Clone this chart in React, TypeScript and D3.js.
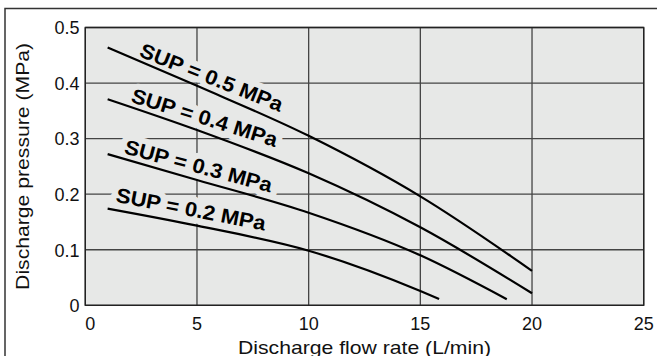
import React from "react";
import * as d3 from "d3";

const xTicks = [0, 5, 10, 15, 20, 25];
const yTicks = [0, 0.1, 0.2, 0.3, 0.4, 0.5];
const yTickLabels = ["0", "0.1", "0.2", "0.3", "0.4", "0.5"];

const sup05: [number, number][] = [[1, 0.464], [5, 0.395], [10, 0.305], [15, 0.196], [20, 0.062]];
const sup04: [number, number][] = [[1, 0.371], [5, 0.3155], [10, 0.2376], [15, 0.1404], [20, 0.0216]];
const sup03: [number, number][] = [[1, 0.272], [5, 0.2255], [10, 0.1667], [15, 0.09], [18.87, 0.011]];
const sup02: [number, number][] = [[1, 0.174], [5, 0.1433], [10, 0.0983], [15, 0.0257], [15.84, 0.0113]];
const series = [sup05, sup04, sup03, sup02];

const labelTexts = ["SUP = 0.5 MPa", "SUP = 0.4 MPa", "SUP = 0.3 MPa", "SUP = 0.2 MPa"];
// label anchors in data units (x, y) and rotation in degrees
const labelAnchors: [number, number, number][] = [
  [2.37, 0.4487, 21.6],
  [2.0, 0.3665, 17.4],
  [1.7, 0.2736, 14.9],
  [1.33, 0.1865, 11],
];

const xTitle = "Discharge flow rate (L/min)";
const yTitle = "Discharge pressure (MPa)";

const W = 657;
const H = 356;
const left = 85.3, right = 643.7, top = 27.5, bottom = 305.3;
const BG = "#e7e8e7";
const FONT = "'Liberation Sans', Arial, Helvetica, sans-serif";

export default function App() {
  const x = d3.scaleLinear().domain([0, 25]).range([left, right]);
  const y = d3.scaleLinear().domain([0, 0.5]).range([bottom, top]);
  const line = d3
    .line<[number, number]>()
    .x((d) => x(d[0]))
    .y((d) => y(d[1]))
    .curve(d3.curveMonotoneX);

  return (
    <svg
      width={W}
      height={H}
      style={{ position: "fixed", left: 0, top: 0, background: "#fff" }}
      fontFamily={FONT}
    >
      <rect x={0} y={0} width={W} height={H} fill="#fff" />
      {/* outer frame */}
      <rect x={5} y={8.5} width={800} height={500} fill="none" stroke="#333" strokeWidth={1.5} />
      {/* plot background */}
      <rect x={left} y={top} width={right - left} height={bottom - top} fill={BG} />
      {/* grid */}
      {xTicks.map((t) => (
        <line key={"gx" + t} x1={x(t)} x2={x(t)} y1={top} y2={bottom} stroke="#444" strokeWidth={1.3} />
      ))}
      {yTicks.map((t) => (
        <line key={"gy" + t} x1={left} x2={right} y1={y(t)} y2={y(t)} stroke="#444" strokeWidth={1.3} />
      ))}
      <rect x={left} y={top} width={right - left} height={bottom - top} fill="none" stroke="#222" strokeWidth={1.4} />
      {/* label halos */}
      {labelTexts.map((t, i) => {
        const [lx, ly, a] = labelAnchors[i];
        return (
          <text
            key={"h" + i}
            transform={`translate(${x(lx)},${y(ly)}) rotate(${a})`}
            fontSize={20.5}
            fontWeight="bold"
            textLength={152}
            lengthAdjust="spacingAndGlyphs"
            fill={BG}
            stroke={BG}
            strokeWidth={12}
            strokeLinejoin="round"
          >
            {t}
          </text>
        );
      })}
      {/* curves */}
      {series.map((s, i) => (
        <path key={"c" + i} d={line(s) || ""} fill="none" stroke="#000" strokeWidth={2.2} />
      ))}
      {/* labels */}
      {labelTexts.map((t, i) => {
        const [lx, ly, a] = labelAnchors[i];
        return (
          <text
            key={"l" + i}
            transform={`translate(${x(lx)},${y(ly)}) rotate(${a})`}
            fontSize={20.5}
            fontWeight="bold"
            textLength={152}
            lengthAdjust="spacingAndGlyphs"
            fill="#000"
          >
            {t}
          </text>
        );
      })}
      {/* x tick labels */}
      {xTicks.map((t, i) => (
        <text
          key={"xt" + t}
          x={x(t)}
          y={329.5}
          fontSize={18}
          textAnchor={i === 0 ? "start" : "middle"}
          fill="#111"
        >
          {String(t)}
        </text>
      ))}
      {/* y tick labels */}
      {yTicks.map((t, i) => (
        <text key={"yt" + t} x={79.5} y={y(t) + 6.8} fontSize={18} textAnchor="end" fill="#111">
          {yTickLabels[i]}
        </text>
      ))}
      {/* axis titles */}
      <text
        x={(left + right) / 2}
        y={353.5}
        fontSize={18.5}
        textAnchor="middle"
        textLength={253}
        lengthAdjust="spacingAndGlyphs"
        fill="#111"
      >
        {xTitle}
      </text>
      <text
        transform={`translate(29,${(top + bottom) / 2}) rotate(-90)`}
        fontSize={18.5}
        textAnchor="middle"
        textLength={247}
        lengthAdjust="spacingAndGlyphs"
        fill="#111"
      >
        {yTitle}
      </text>
    </svg>
  );
}
